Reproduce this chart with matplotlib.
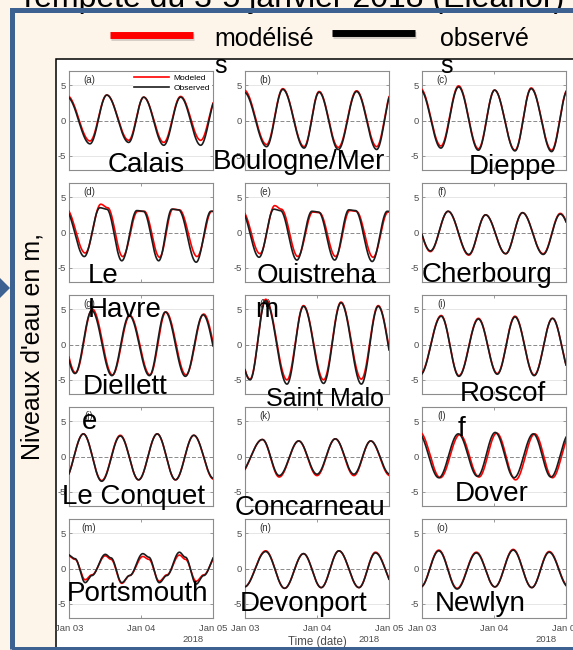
"""Niveaux d'eau modélisés / observés pendant la tempête Eleanor (3-5 janvier 2018).

15 marégraphes Manche / Atlantique, une vignette par station.
Pour chaque station on garde les pleines et basses mers relevées
(heures depuis le 3 janvier 00h, hauteur en m) ; entre deux extrêmes
la courbe suit une demi-sinusoïde (forme classique de la marée).
Sortie : out.png
"""
import numpy as np
import matplotlib
matplotlib.use("Agg")
import matplotlib.pyplot as plt
from matplotlib.patches import Rectangle, Polygon
from matplotlib.lines import Line2D
import matplotlib.patheffects as pe

plt.rcParams["font.family"] = ["Liberation Sans", "DejaVu Sans"]
plt.rcParams["axes.unicode_minus"] = False

PANEL_TAGS = ["(a)", "(b)", "(c)", "(d)", "(e)", "(f)", "(g)", "(h)",
              "(i)", "(j)", "(k)", "(l)", "(m)", "(n)", "(o)"]
DAY_TICKS = [0, 24, 48]
DAY_LABELS = ["Jan 03", "Jan 04", "Jan 05"]
YEAR = "2018"

# extrêmes : heure (h depuis le 03/01 00h), observé, modélisé (m)
CALAIS_T = [-0.6, 7.0, 12.6, 19.9, 24.9, 31.6, 37.2, 43.9, 49.4]
CALAIS_OBS = [3.3, -3.3, 3.6, -3.1, 3.3, -3.5, 3.3, -3.5, 3.4]
CALAIS_MOD = [3.5, -2.9, 3.6, -2.8, 3.3, -3.1, 3.4, -2.8, 3.4]

BOULOGNE_T = [-0.3, 7.2, 12.6, 19.7, 24.7, 31.1, 37.2, 43.9, 49.1]
BOULOGNE_OBS = [4.0, -3.7, 4.4, -3.9, 4.0, -4.1, 4.1, -4.1, 4.1]
BOULOGNE_MOD = [4.3, -3.4, 4.5, -3.7, 4.1, -3.8, 4.2, -3.7, 4.2]

DIEPPE_T = [-0.5, 6.3, 12.2, 18.8, 24.2, 31.0, 36.4, 43.2, 48.6]
DIEPPE_OBS = [4.3, -3.9, 4.75, -4.2, 4.3, -4.3, 4.5, -4.4, 4.3]
DIEPPE_MOD = [4.5, -3.6, 4.9, -4.0, 4.3, -4.2, 4.6, -4.2, 4.4]

# Le Havre / Ouistreham : tenue du plein (deux pleines mers rapprochées)
LE_HAVRE_T = [-1.2, 5.1, 10.3, 12.6, 17.6, 22.6, 24.8, 29.9, 34.3, 36.5, 42.4, 47.3, 49.6]
LE_HAVRE_OBS = [3.2, -3.4, 3.5, 3.3, -4.0, 3.1, 3.0, -4.0, 3.3, 3.2, -4.2, 3.0, 2.9]
LE_HAVRE_MOD = [3.3, -2.9, 4.0, 3.5, -3.4, 3.0, 3.0, -3.5, 3.3, 3.2, -3.4, 3.0, 2.9]

OUISTREHAM_T = [-1.2, 4.7, 9.6, 11.8, 17.3, 22.3, 24.5, 29.9, 34.6, 36.8, 42.4, 47.4, 49.6]
OUISTREHAM_OBS = [3.0, -3.5, 3.3, 3.1, -3.9, 3.0, 2.9, -3.9, 3.2, 3.1, -4.1, 3.0, 2.9]
OUISTREHAM_MOD = [3.0, -3.0, 3.8, 3.3, -3.4, 2.9, 2.8, -3.4, 3.1, 3.0, -3.5, 2.9, 2.8]

CHERBOURG_T = [-3.2, 2.8, 8.7, 15.6, 21.2, 27.9, 33.5, 40.4, 46.1, 52.6]
CHERBOURG_OBS = [2.6, -2.6, 3.0, -3.1, 2.5, -3.0, 2.8, -3.1, 2.6, -3.0]
CHERBOURG_MOD = [2.6, -2.7, 3.0, -3.2, 2.5, -3.0, 2.8, -3.0, 2.7, -3.0]

DIELETTE_T = [-4.4, 2.0, 7.6, 14.3, 20.1, 26.8, 32.1, 38.8, 44.7, 51.2]
DIELETTE_OBS = [4.4, -4.1, 4.8, -4.4, 4.1, -4.4, 4.6, -4.5, 4.2, -4.4]
DIELETTE_MOD = [4.4, -4.0, 5.0, -4.3, 4.1, -4.3, 4.6, -4.3, 4.3, -4.3]

ST_MALO_T = [-5.5, 1.7, 6.9, 14.0, 19.5, 26.2, 32.0, 38.8, 44.4, 51.0]
ST_MALO_OBS = [5.5, -5.0, 6.2, -5.6, 5.4, -5.5, 5.9, -5.6, 5.4, -5.4]
ST_MALO_MOD = [5.5, -4.9, 6.4, -5.0, 5.5, -5.0, 6.0, -4.9, 5.5, -4.9]

ROSCOFF_T = [-0.6, 6.4, 12.3, 18.8, 25.1, 31.0, 37.4, 43.5, 49.7]
ROSCOFF_OBS = [-4.3, 4.0, -4.5, 3.6, -4.2, 3.9, -4.4, 3.7, -4.3]
ROSCOFF_MOD = [-4.2, 4.1, -4.4, 3.7, -4.1, 4.0, -4.3, 3.7, -4.2]

CONQUET_T = [-1.5, 4.8, 10.9, 17.1, 23.2, 29.4, 35.5, 41.6, 48.2]
CONQUET_OBS = [-3.3, 3.2, -3.5, 2.9, -3.3, 3.2, -3.3, 3.0, -3.1]
CONQUET_MOD = [-3.3, 3.2, -3.4, 3.0, -3.3, 3.2, -3.3, 3.0, -3.2]

CONCARNEAU_T = [-2.0, 5.8, 11.4, 17.9, 24.0, 30.1, 36.3, 41.9, 48.3]
CONCARNEAU_OBS = [-2.5, 2.4, -2.7, 2.2, -2.5, 2.5, -2.5, 2.2, -2.5]
CONCARNEAU_MOD = [-2.6, 2.4, -2.9, 2.2, -2.7, 2.5, -2.7, 2.2, -2.7]

DOVER_T = [-1.2, 5.6, 12.1, 18.5, 24.4, 30.7, 37.1, 43.0, 49.1]
DOVER_OBS = [3.3, -3.0, 3.2, -2.8, 3.4, -3.0, 3.2, -2.9, 3.2]
DOVER_MOD = [3.4, -3.0, 3.1, -2.9, 3.3, -3.3, 3.2, -3.0, 3.2]

# Portsmouth : double pleine mer + tenue au début du flot
PORTSMOUTH_T = [-0.6, 2.0, 5.4, 7.6, 12.1, 14.0, 17.6, 20.2, 24.6, 26.6,
                30.1, 32.6, 36.8, 38.8, 42.4, 44.9, 49.3]
PORTSMOUTH_OBS = [2.0, 1.4, -2.0, -1.0, 2.0, 1.5, -2.0, -1.0, 2.1, 1.6,
                  -2.0, -1.0, 2.3, 1.6, -2.2, -1.0, 2.1]
PORTSMOUTH_MOD = [1.9, 1.3, -1.6, -0.9, 1.8, 1.3, -2.1, -1.0, 1.7, 1.3,
                  -1.8, -0.9, 1.9, 1.3, -1.8, -0.9, 1.9]

DEVONPORT_T = [-0.2, 6.9, 13.2, 19.5, 25.4, 31.3, 38.0, 43.5, 50.2]
DEVONPORT_OBS = [-2.6, 2.4, -2.8, 2.1, -2.7, 2.5, -2.7, 2.2, -2.7]
DEVONPORT_MOD = [-2.6, 2.5, -2.8, 2.1, -2.7, 2.5, -2.7, 2.3, -2.7]

NEWLYN_T = [-0.4, 5.6, 11.7, 18.1, 24.3, 30.4, 36.6, 42.4, 48.8]
NEWLYN_OBS = [-2.6, 2.5, -2.9, 2.2, -2.6, 2.6, -2.7, 2.3, -2.6]
NEWLYN_MOD = [-2.6, 2.6, -2.8, 2.3, -2.6, 2.7, -2.7, 2.4, -2.5]

# retard du modèle (h) par station
MOD_LAG = [0.0, 0.0, 0.0, 0.3, 0.3, 0.0, 0.2, 0.0, 0.0, 0.0, 0.0, 0.5, 0.0, 0.0, 0.0]

SERIES = [
    (CALAIS_T, CALAIS_OBS, CALAIS_MOD),
    (BOULOGNE_T, BOULOGNE_OBS, BOULOGNE_MOD),
    (DIEPPE_T, DIEPPE_OBS, DIEPPE_MOD),
    (LE_HAVRE_T, LE_HAVRE_OBS, LE_HAVRE_MOD),
    (OUISTREHAM_T, OUISTREHAM_OBS, OUISTREHAM_MOD),
    (CHERBOURG_T, CHERBOURG_OBS, CHERBOURG_MOD),
    (DIELETTE_T, DIELETTE_OBS, DIELETTE_MOD),
    (ST_MALO_T, ST_MALO_OBS, ST_MALO_MOD),
    (ROSCOFF_T, ROSCOFF_OBS, ROSCOFF_MOD),
    (CONQUET_T, CONQUET_OBS, CONQUET_MOD),
    (CONCARNEAU_T, CONCARNEAU_OBS, CONCARNEAU_MOD),
    (DOVER_T, DOVER_OBS, DOVER_MOD),
    (PORTSMOUTH_T, PORTSMOUTH_OBS, PORTSMOUTH_MOD),
    (DEVONPORT_T, DEVONPORT_OBS, DEVONPORT_MOD),
    (NEWLYN_T, NEWLYN_OBS, NEWLYN_MOD),
]

# étiquettes des stations posées sur la diapo (texte, x, y ligne de base, taille)
STATION_LABELS = [
    ("Calais", 108, 172, 20), ("Boulogne/Mer", 213, 169, 20), ("Dieppe", 469, 174, 20),
    ("Le", 88, 283, 20), ("Havre", 88, 317, 20),
    ("Ouistreha", 257, 283, 20), ("m", 255, 317, 20), ("Cherbourg", 422, 282, 20),
    ("Diellett", 83, 394, 20), ("e", 82, 429, 20), ("Saint Malo", 266, 406, 18),
    ("Roscof", 460, 401, 20), ("f", 458, 436, 20),
    ("Le Conquet", 62, 504, 20), ("Concarneau", 235, 515, 20), ("Dover", 455, 501, 20),
    ("Portsmouth", 67, 601, 20), ("Devonport", 240, 611, 20), ("Newlyn", 435, 611, 20),
]

W, H = 573, 650
CREAM = "#fdf4ea"
BLUE = "#3d6190"
COL_X = [69, 245, 422]
ROW_Y = [71, 183, 295, 407, 519]
AX_W, AX_H = 144, 99


def fx(px):
    return px / W


def fy(py):
    return 1 - py / H


def tide_curve(t_ext, h_ext, t):
    """Demi-sinusoïde entre extrêmes successifs."""
    t_ext = np.asarray(t_ext, float)
    h_ext = np.asarray(h_ext, float)
    i = np.clip(np.searchsorted(t_ext, t, side="right") - 1, 0, len(t_ext) - 2)
    t0, t1 = t_ext[i], t_ext[i + 1]
    w = (1 - np.cos(np.pi * (t - t0) / (t1 - t0))) / 2
    return h_ext[i] + (h_ext[i + 1] - h_ext[i]) * w


def draw_panel(fig, k):
    r, c = divmod(k, 3)
    ax = fig.add_axes([fx(COL_X[c]), fy(ROW_Y[r] + AX_H), AX_W / W, AX_H / H])
    t_ext, obs, mod = SERIES[k]
    t = np.linspace(0, 48, 500)
    ax.plot(t, tide_curve(np.array(t_ext) + MOD_LAG[k], mod, t),
            color="#ff0000", lw=1.2, label="Modeled", zorder=3)
    ax.plot(t, tide_curve(t_ext, obs, t), color="#1c1c1c", lw=1.2,
            label="Observed", zorder=4)
    ax.axhline(0, color="#8a8a8a", lw=0.7, ls=(0, (4, 2)), zorder=1)
    for yv in (-5, 5):
        ax.axhline(yv, color="#e6e6e6", lw=0.7, zorder=0)
    ax.set_xlim(0, 48)
    ax.set_ylim(-7, 7)
    ax.set_yticks([-5, 0, 5])
    ax.set_xticks(DAY_TICKS)
    ax.tick_params(direction="in", length=2.5, width=0.6, color="#8a8a8a",
                   labelcolor="#4d4d4d", labelsize=6.8, top=True, right=True,
                   pad=2.5)
    ax.tick_params(axis="x", pad=4)
    for s in ax.spines.values():
        s.set_color("#8c8c8c")
        s.set_linewidth(0.8)
    ax.text(20 / AX_W, 1 - 9 / AX_H, PANEL_TAGS[k], transform=ax.transAxes,
            fontsize=7, color="#333333", ha="center", va="center")

    if r == 4:
        ax.set_xticklabels(DAY_LABELS)
        ax.text(1 - 20 / AX_W, -22 / AX_H, YEAR, transform=ax.transAxes,
                fontsize=6.8, color="#4d4d4d", ha="center", va="center")
        if c == 1:
            ax.text(0.5, -24 / AX_H, "Time (date)", transform=ax.transAxes,
                    fontsize=8.3, color="#4d4d4d", ha="center", va="center")
    else:
        ax.set_xticklabels([])

    if k == 0:
        ax.legend(loc="upper right", fontsize=6, handlelength=4.2,
                  facecolor="white", edgecolor="none", framealpha=1,
                  borderpad=0.2, labelspacing=0.3, handletextpad=0.5,
                  borderaxespad=0.15)
    return ax


def main():
    fig = plt.figure(figsize=(W / 100, H / 100), dpi=100)
    fig.patch.set_facecolor(CREAM)

    # titre de la diapo, coupé en haut
    fig.text(fx(18), fy(7), "Tempête du 3-5 janvier 2018 (Eleanor)",
             fontsize=23, va="baseline", ha="left", zorder=2)

    # fond blanc de la figure MATLAB
    fig.add_artist(Rectangle((fx(56), fy(700)), (700 - 56) / W, (700 - 59) / H,
                             transform=fig.transFigure, facecolor="white",
                             edgecolor="black", lw=1.1, zorder=-1))

    for k in range(15):
        draw_panel(fig, k)

    # cadre bleu + flèche
    fig.add_artist(Rectangle((fx(12), fy(648.5)), (700 - 12) / W, (648.5 - 10) / H,
                             transform=fig.transFigure, fill=False,
                             edgecolor=BLUE, lw=3.6, zorder=8, clip_on=False))
    fig.add_artist(Polygon([(fx(0), fy(278)), (fx(10), fy(288)), (fx(0), fy(298))],
                           closed=True, transform=fig.transFigure,
                           facecolor=BLUE, edgecolor="none", zorder=8))

    # légende de la diapo
    shadow = [pe.SimpleLineShadow(offset=(1, -1.5), shadow_color="#888888", alpha=0.35),
              pe.Normal()]
    fig.add_artist(Line2D([fx(110), fx(193)], [fy(35), fy(35)], transform=fig.transFigure,
                          color="#ff0000", lw=5, solid_capstyle="butt",
                          path_effects=shadow))
    fig.add_artist(Line2D([fx(332), fx(415)], [fy(33), fy(33)], transform=fig.transFigure,
                          color="black", lw=5, solid_capstyle="butt",
                          path_effects=shadow))
    for txt, x, y in [("modélisé", 214, 46), ("s", 214, 73),
                      ("observé", 440, 46), ("s", 440, 73)]:
        fig.text(fx(x), fy(y), txt, fontsize=18, va="baseline", ha="left", zorder=9)

    fig.text(fx(33), fy(347), "Niveaux d'eau en m,", rotation=90, fontsize=18,
             ha="center", va="center", zorder=9)

    for txt, x, y, size in STATION_LABELS:
        fig.text(fx(x), fy(y), txt, fontsize=size, va="baseline", ha="left", zorder=9)

    fig.savefig("out.png", dpi=100, facecolor=fig.get_facecolor())
    plt.close(fig)


if __name__ == "__main__":
    main()
